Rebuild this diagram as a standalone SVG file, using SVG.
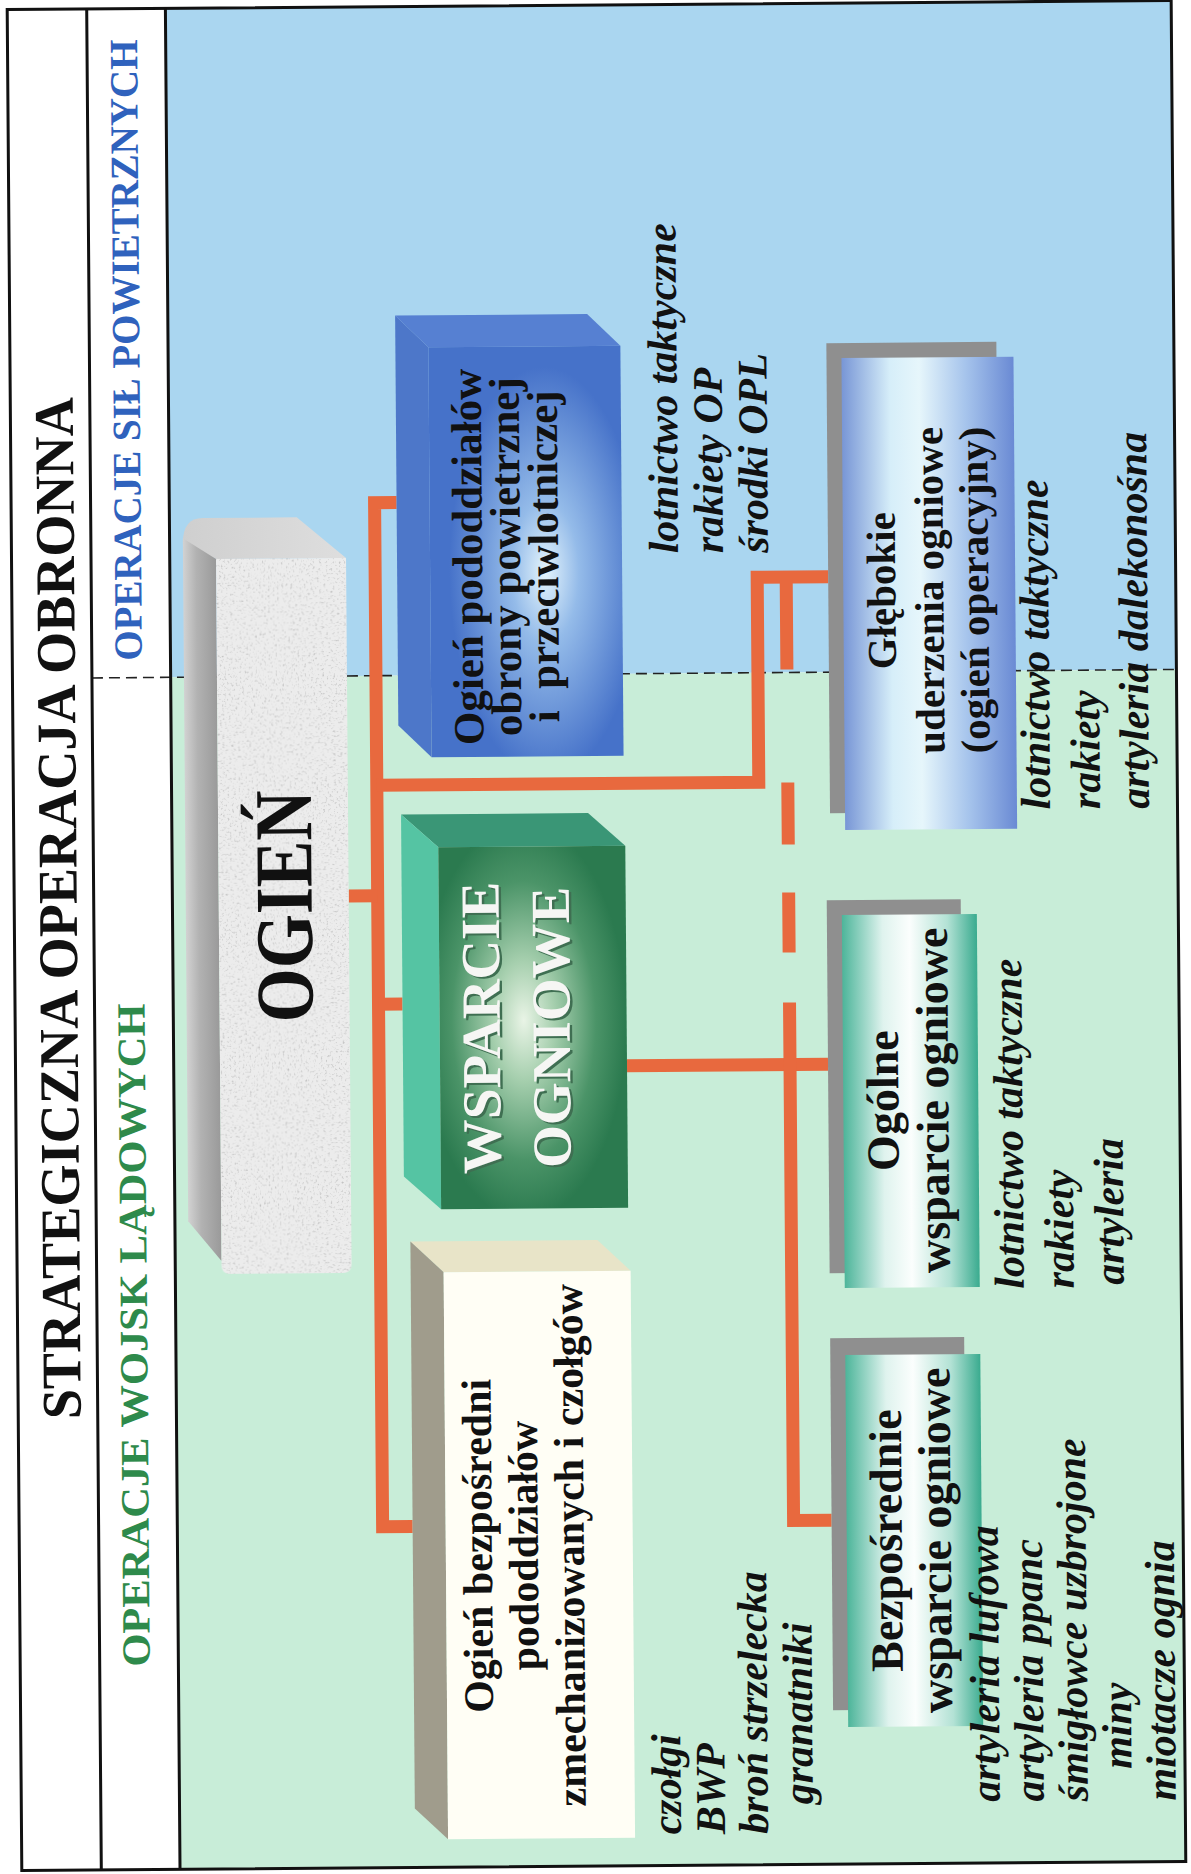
<svg xmlns="http://www.w3.org/2000/svg" width="1191" height="1874" viewBox="0 0 1191 1874">
<defs>
<style>
.ser{font-family:'Liberation Serif','Times New Roman',serif;font-weight:bold;}
.bx{font-family:'Liberation Serif','Times New Roman',serif;font-weight:bold;fill:#111;}
.it{font-family:'Liberation Serif','Times New Roman',serif;font-weight:bold;font-style:italic;font-size:42px;fill:#111;}
.conn{fill:none;stroke:#e8693e;stroke-width:13;stroke-linejoin:miter;stroke-linecap:butt;}
.frame{fill:none;stroke:#111;stroke-width:3;}
.back{fill:#8f8f8f;}
</style>
<linearGradient id="gDeep" x1="0" y1="0" x2="1" y2="0">
<stop offset="0" stop-color="#7896d6"/><stop offset="0.28" stop-color="#d6eef9"/><stop offset="0.45" stop-color="#e6f6fb"/><stop offset="0.72" stop-color="#a6c4ec"/><stop offset="1" stop-color="#6a8ad4"/>
</linearGradient>
<linearGradient id="gTeal" x1="0" y1="0" x2="1" y2="0">
<stop offset="0" stop-color="#4db59a"/><stop offset="0.3" stop-color="#dff3ee"/><stop offset="0.5" stop-color="#fbfefd"/><stop offset="0.78" stop-color="#b3e2d5"/><stop offset="1" stop-color="#3aab8f"/>
</linearGradient>
<radialGradient id="gAir" cx="0.6" cy="0.55" r="0.5">
<stop offset="0" stop-color="#e4f4fc"/><stop offset="0.35" stop-color="#94bbe9"/><stop offset="1" stop-color="#4672c9"/>
</radialGradient>
<radialGradient id="gWsp" cx="0.45" cy="0.48" r="0.55">
<stop offset="0" stop-color="#e9f4e6"/><stop offset="0.3" stop-color="#a6cfae"/><stop offset="0.7" stop-color="#4b9468"/><stop offset="1" stop-color="#2b7a4f"/>
</radialGradient>
<linearGradient id="gOgSide" x1="0" y1="0" x2="1" y2="0">
<stop offset="0" stop-color="#d2d2d2"/><stop offset="0.4" stop-color="#b2b2b2"/><stop offset="1" stop-color="#9a9a9a"/>
</linearGradient>
<linearGradient id="gOgTop" x1="0" y1="0" x2="1" y2="0">
<stop offset="0" stop-color="#cfcfcf"/><stop offset="1" stop-color="#dedede"/>
</linearGradient>
<filter id="speck" x="0" y="0" width="1" height="1" color-interpolation-filters="sRGB">
<feTurbulence type="fractalNoise" baseFrequency="0.45" numOctaves="2" seed="4" result="n"/>
<feColorMatrix in="n" type="matrix" values="0 0 0 0 0.7  0 0 0 0 0.7  0 0 0 0 0.7  2.5 0 0 0 -1.4" result="spots"/>
<feComposite in="spots" in2="SourceGraphic" operator="in" result="sp"/>
<feMerge><feMergeNode in="SourceGraphic"/><feMergeNode in="sp"/></feMerge>
</filter>
</defs>
<rect width="1191" height="1874" fill="#ffffff"/>
<g transform="rotate(-0.45 595 937)">
  <g id="background">
    <rect x="173" y="5" width="1005.5" height="669" fill="#aad6f0"/>
    <rect x="173" y="674" width="1005.5" height="1192" fill="#c8edd8"/>
    <path d="M94 674 H1178.5" stroke="#222" stroke-width="1.6" stroke-dasharray="11 6" fill="none"/>
  </g>
  <g id="frame">
    <rect class="frame" x="14.5" y="5" width="1164" height="1861"/>
    <path class="frame" d="M94 5 V1866 M172.7 5 V1866"/>
  </g>
  <g id="title">
    <text class="ser" font-weight="bold" font-size="56" fill="#111" text-anchor="middle" transform="translate(77 904) rotate(-90)" textLength="1022" lengthAdjust="spacingAndGlyphs">STRATEGICZNA OPERACJA OBRONNA</text>
  </g>
  <g id="zone-air">
    <text class="ser" font-weight="bold" font-size="40" fill="#2f62bd" transform="translate(144 657) rotate(-90)" textLength="621" lengthAdjust="spacingAndGlyphs">OPERACJE SIŁ POWIETRZNYCH</text>
  </g>
  <g id="zone-land">
    <text class="ser" font-weight="bold" font-size="40" fill="#2e8a4b" transform="translate(144 1663) rotate(-90)" textLength="663" lengthAdjust="spacingAndGlyphs">OPERACJE WOJSK LĄDOWYCH</text>
  </g>

  <g id="connectors">
    <path class="conn" d="M400 501 H378 V1525 H408"/>
    <path class="conn" d="M349 894 H378"/>
    <path class="conn" d="M378 783.5 H760 V578.5 H831"/>
    <path class="conn" d="M378 1002.5 H402"/>
    <path class="conn" d="M626 1066 H827"/>
    <path class="conn" d="M789 578.5 V671 M789 784 V846 M789 894 V954"/>
    <path class="conn" d="M789 1004 V1522 H827"/>
  </g>

  <g id="node-ogien">
    <path d="M186 540 Q186 515 206 515 L300 515 L349 556 L219 556 Z" fill="url(#gOgTop)"/>
    <path d="M186 535 L219 556 L219 1258 L186 1218 Z" fill="url(#gOgSide)"/>
    <path d="M219 556 H349 V1262 Q349 1271 340 1271 H228 Q219 1271 219 1262 Z" fill="#ececec" filter="url(#speck)"/>
    <text class="bx" font-weight="bold" font-size="82" text-anchor="middle" transform="translate(312 904) rotate(-90)" textLength="232" lengthAdjust="spacingAndGlyphs">OGIEŃ</text>
  </g>

  <g id="node-opl">
    <polygon points="400,314 592,314 625,346 433,346" fill="#5680d2"/>
    <polygon points="400,314 433,346 433,756 400,724" fill="#4d77c9"/>
    <rect x="433" y="346" width="192" height="410" fill="url(#gAir)"/>
    <g class="bx" font-weight="bold" font-size="43" text-anchor="middle">
      <text transform="translate(485 556) rotate(-90)">Ogień pododdziałów</text>
      <text transform="translate(523 556) rotate(-90)">obrony powietrznej</text>
      <text transform="translate(561 556) rotate(-90)">i&#160; przeciwlotniczej</text>
    </g>
    <g class="it">
      <text transform="translate(681 554) rotate(-90)">lotnictwo taktyczne</text>
      <text transform="translate(726 554) rotate(-90)">rakiety OP</text>
      <text transform="translate(771 554) rotate(-90)">środki OPL</text>
    </g>
  </g>

  <g id="node-wsparcie">
    <polygon points="402,813 589,813 626,846 439,846" fill="#3a9676"/>
    <polygon points="402,813 439,846 439,1208 402,1175" fill="#55c4a3"/>
    <rect x="439" y="846" width="187" height="362" fill="url(#gWsp)"/>
    <g class="ser" font-weight="bold" font-size="55" text-anchor="middle">
      <text fill="#3f6f52" transform="translate(501.5 1029) rotate(-90)">WSPARCIE</text>
      <text fill="#3f6f52" transform="translate(571.5 1029) rotate(-90)">OGNIOWE</text>
      <text fill="#f6f6f4" transform="translate(499 1027) rotate(-90)">WSPARCIE</text>
      <text fill="#f6f6f4" transform="translate(569 1027) rotate(-90)">OGNIOWE</text>
    </g>
  </g>

  <g id="node-bezposredni">
    <polygon points="408,1240 595,1240 628,1271 441,1271" fill="#e8e4c8"/>
    <polygon points="408,1240 441,1271 441,1838 408,1807" fill="#a09c8c"/>
    <rect x="441" y="1271" width="187" height="567" fill="#fffef5"/>
    <g class="bx" font-weight="bold" font-size="42" text-anchor="middle">
      <text transform="translate(487 1545) rotate(-90)">Ogień bezpośredni</text>
      <text transform="translate(533 1545) rotate(-90)">pododdziałów</text>
      <text transform="translate(579 1545) rotate(-90)">zmechanizowanych i czołgów</text>
    </g>
    <g class="it">
      <text transform="translate(674 1835) rotate(-90)">czołgi</text>
      <text transform="translate(718 1835) rotate(-90)">BWP</text>
      <text transform="translate(761 1835) rotate(-90)">broń strzelecka</text>
      <text transform="translate(806 1806) rotate(-90)">granatniki</text>
    </g>
  </g>

  <g id="node-glebokie">
    <rect class="back" x="831" y="345" width="170" height="470"/>
    <rect x="846" y="360" width="172" height="472" fill="url(#gDeep)"/>
    <g class="bx" font-weight="bold" font-size="41" text-anchor="middle">
      <text transform="translate(898 593) rotate(-90)">Głębokie</text>
      <text transform="translate(946 593) rotate(-90)">uderzenia ogniowe</text>
      <text transform="translate(991 593) rotate(-90)">(ogień operacyjny)</text>
    </g>
    <g class="it">
      <text transform="translate(1051 813) rotate(-90)">lotnictwo taktyczne</text>
      <text transform="translate(1101 813) rotate(-90)">rakiety</text>
      <text transform="translate(1150 813) rotate(-90)">artyleria dalekonośna</text>
    </g>
  </g>

  <g id="node-ogolne">
    <rect class="back" x="827" y="902" width="134" height="373"/>
    <rect x="842" y="917" width="135" height="373" fill="url(#gTeal)"/>
    <g class="bx" font-weight="bold" font-size="46" text-anchor="middle">
      <text transform="translate(897 1103) rotate(-90)">Ogólne</text>
      <text transform="translate(947 1103) rotate(-90)">wsparcie ogniowe</text>
    </g>
    <g class="it">
      <text transform="translate(1021 1292) rotate(-90)">lotnictwo taktyczne</text>
      <text transform="translate(1071 1292) rotate(-90)">rakiety</text>
      <text transform="translate(1121 1289) rotate(-90)">artyleria</text>
    </g>
  </g>

  <g id="node-bezposrednie">
    <rect class="back" x="827" y="1340" width="134" height="372"/>
    <rect x="842" y="1357" width="135" height="372" fill="url(#gTeal)"/>
    <g class="bx" font-weight="bold" font-size="46" text-anchor="middle">
      <text transform="translate(897 1543) rotate(-90)">Bezpośrednie</text>
      <text transform="translate(946 1543) rotate(-90)">wsparcie ogniowe</text>
    </g>
    <g class="it">
      <text transform="translate(993 1805) rotate(-90)">artyleria lufowa</text>
      <text transform="translate(1037 1805) rotate(-90)">artyleria ppanc</text>
      <text transform="translate(1081 1805) rotate(-90)">śmigłowce uzbrojone</text>
      <text transform="translate(1125 1773) rotate(-90)">miny</text>
      <text transform="translate(1169 1805) rotate(-90)">miotacze ognia</text>
    </g>
  </g>
</g>
</svg>
